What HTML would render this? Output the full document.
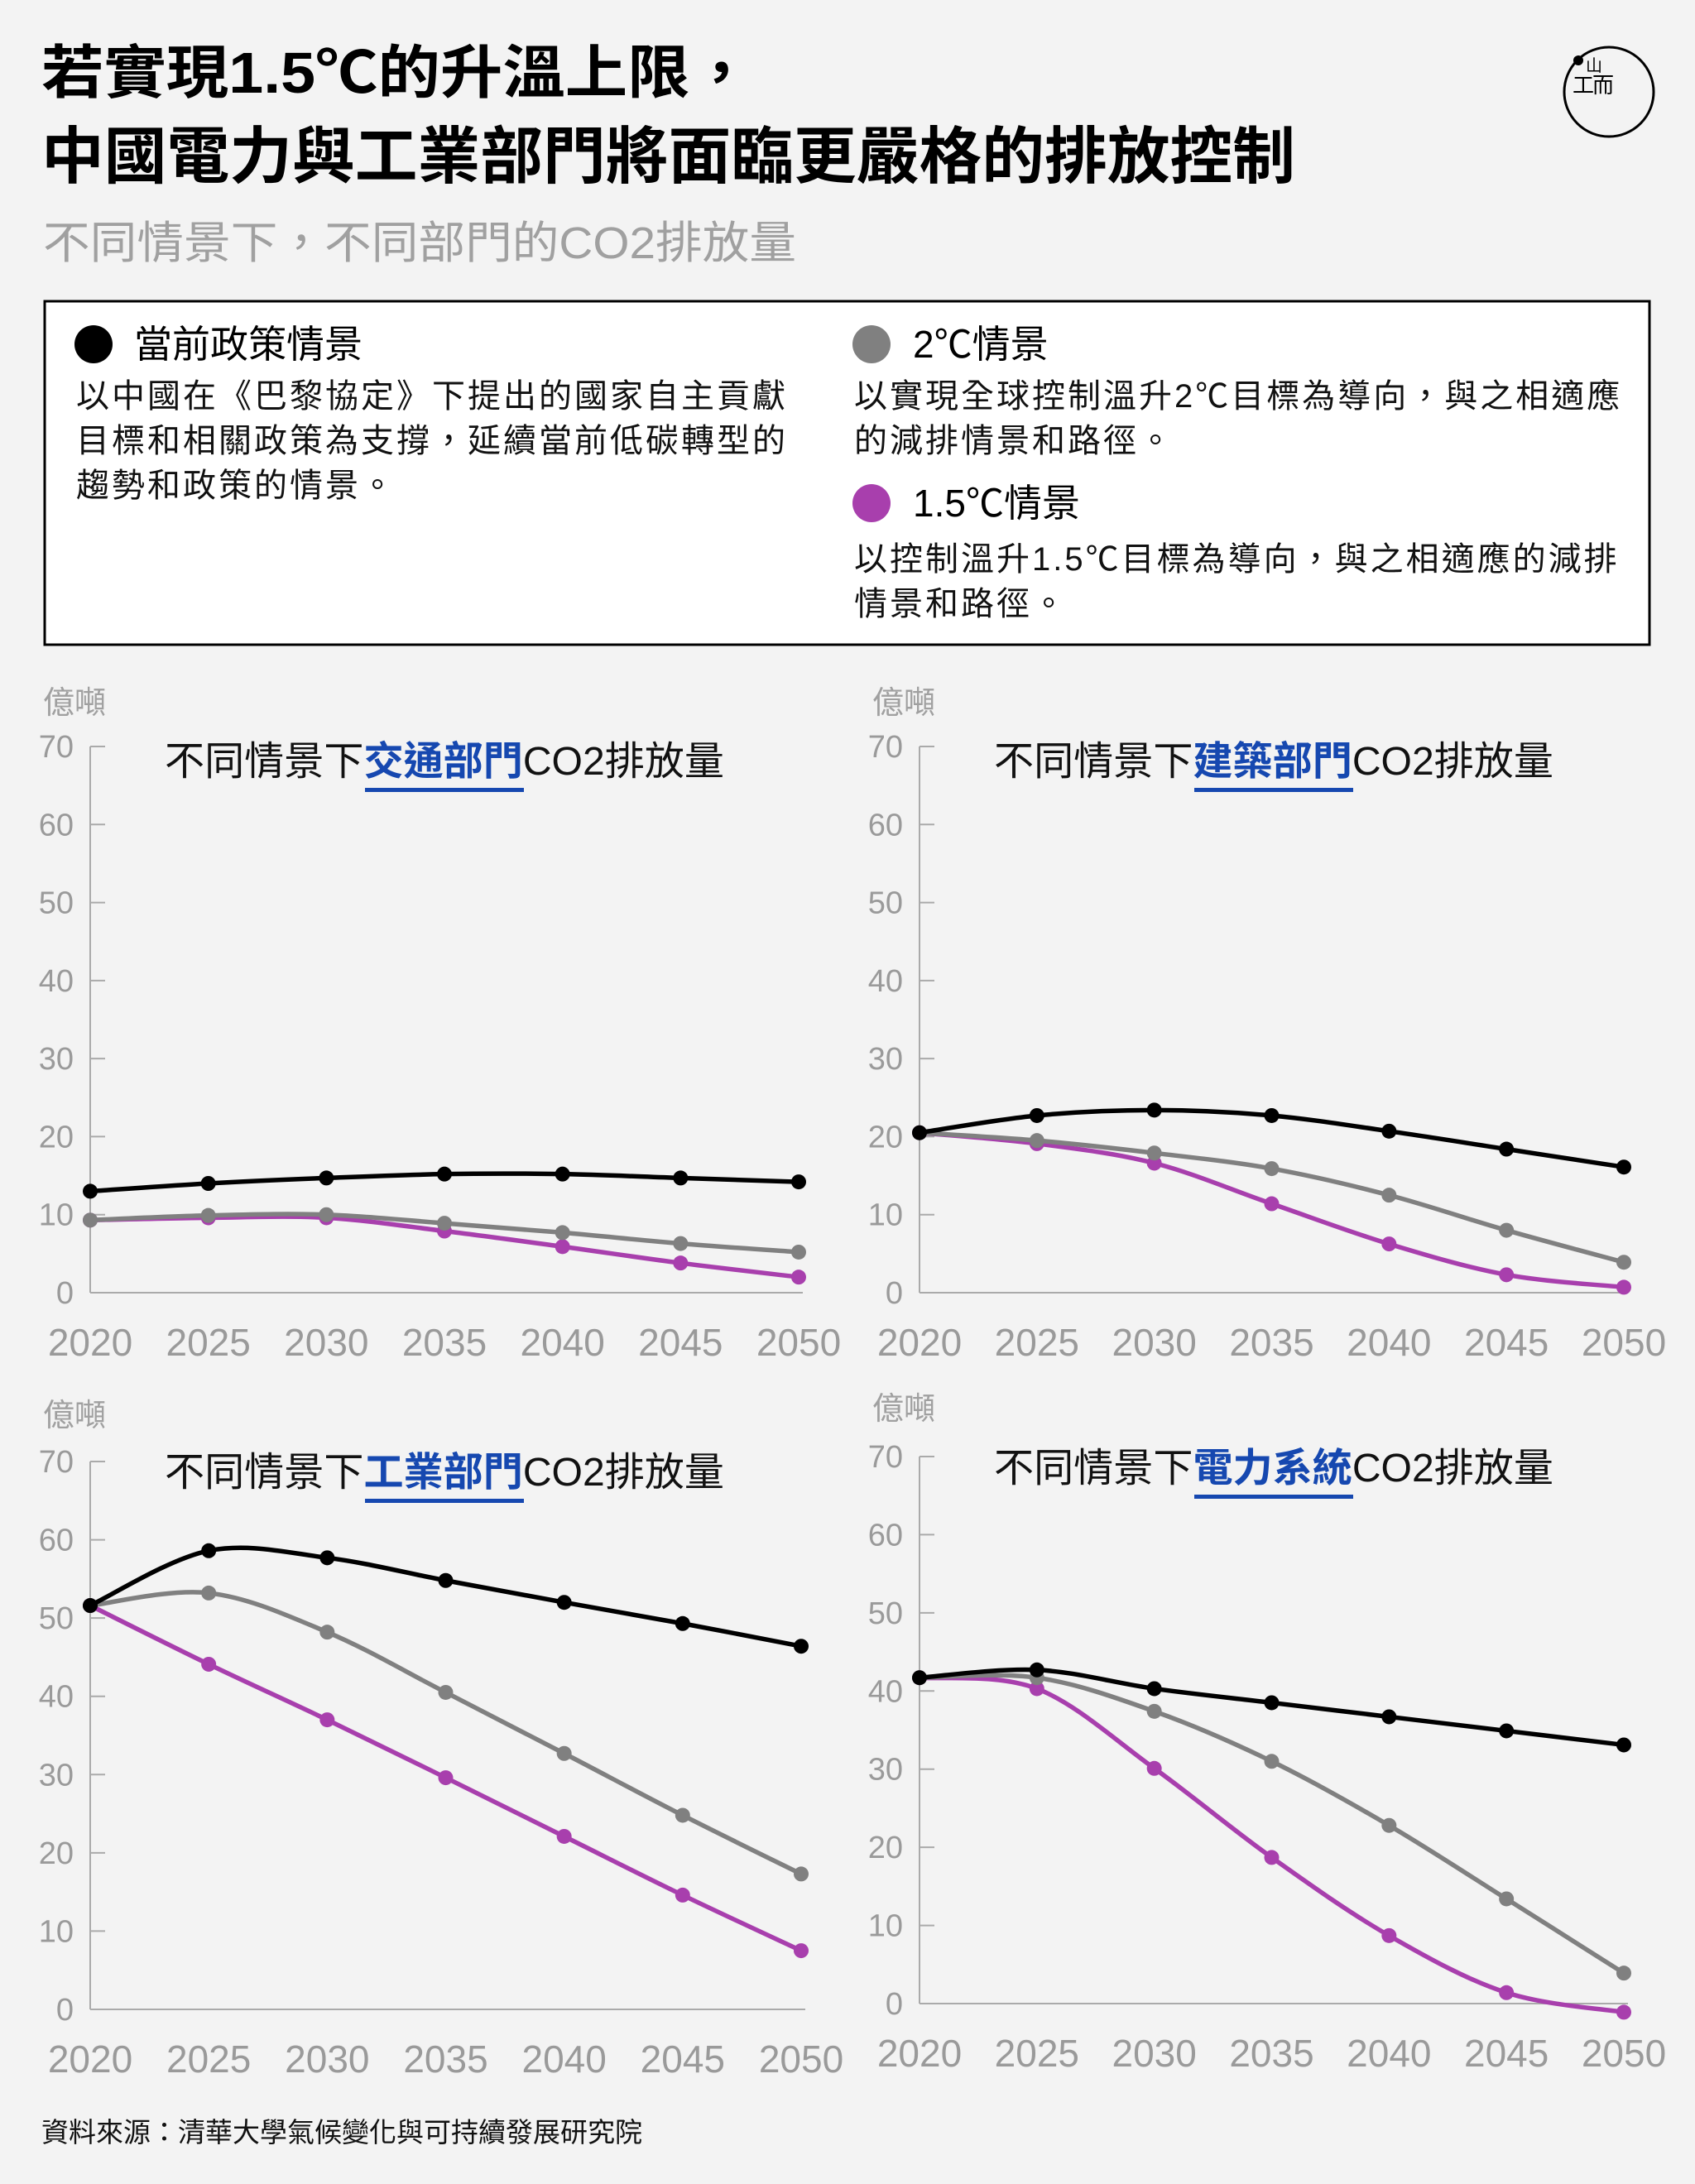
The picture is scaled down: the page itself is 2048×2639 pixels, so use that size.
<!DOCTYPE html>
<html><head><meta charset="utf-8">
<style>
html,body{margin:0;padding:0;background:#f3f3f3;}
svg{display:block;}
text{font-family:"Liberation Sans","Noto Sans CJK TC",sans-serif;}
.num{font-family:"Liberation Sans Narrow","Liberation Sans",sans-serif;fill:#9a9a9a;}
</style></head>
<body>
<svg id="s" width="2048" height="2639" viewBox="0 0 2048 2639" xmlns="http://www.w3.org/2000/svg">
<rect width="2048" height="2639" fill="#f3f3f3"/>
<text x="50" y="112" font-size="70" font-weight="bold" fill="#000" textLength="859" lengthAdjust="spacingAndGlyphs">若實現1.5℃的升溫上限，</text>
<text x="50" y="215" font-size="75" font-weight="bold" fill="#000" textLength="1515" lengthAdjust="spacingAndGlyphs">中國電力與工業部門將面臨更嚴格的排放控制</text>
<text x="52" y="312" font-size="54" fill="#a0a0a0" textLength="910" lengthAdjust="spacingAndGlyphs">不同情景下，不同部門的CO2排放量</text>
<circle cx="1944" cy="111" r="54" fill="none" stroke="#000" stroke-width="3"/>
<circle cx="1907" cy="73" r="6" fill="#000"/>
<text x="1916" y="86" font-size="20" fill="#000">山</text>
<text x="1900" y="112" font-size="26" fill="#000">工</text>
<text x="1924" y="112" font-size="26" fill="#000">而</text>
<rect x="54" y="364" width="1939" height="415" fill="#fff" stroke="#000" stroke-width="3"/>
<circle cx="113" cy="416" r="23" fill="#000"/>
<text x="162" y="432" font-size="46" fill="#000">當前政策情景</text>
<g font-size="40" fill="#111" letter-spacing="3">
<text x="92" y="492">以中國在《巴黎協定》下提出的國家自主貢獻</text>
<text x="92" y="546">目標和相關政策為支撐，延續當前低碳轉型的</text>
<text x="92" y="600">趨勢和政策的情景。</text>
<text x="1032" y="492">以實現全球控制溫升2℃目標為導向，與之相適應</text>
<text x="1032" y="546">的減排情景和路徑。</text>
<text x="1032" y="689">以控制溫升1.5℃目標為導向，與之相適應的減排</text>
<text x="1032" y="743">情景和路徑。</text>
</g>
<circle cx="1053" cy="416" r="23" fill="#808080"/>
<text x="1103" y="432" font-size="46" fill="#000">2℃情景</text>
<circle cx="1053" cy="608" r="23" fill="#a83fad"/>
<text x="1103" y="624" font-size="46" fill="#000">1.5℃情景</text>
<text x="50" y="2588" font-size="33" fill="#111">資料來源：清華大學氣候變化與可持續發展研究院</text>
<g id="charts"></g>
</svg>
<script>
var NS="http://www.w3.org/2000/svg";
var g=document.getElementById("charts");
function el(t,a,txt){var e=document.createElementNS(NS,t);for(var k in a)e.setAttribute(k,a[k]);if(txt!==undefined)e.textContent=txt;g.appendChild(e);return e;}
var charts=[
{x0:109,x1:965,y0:1562,y70:902,unitY:845,title:"交通部門",ty:936,
 d:[[13,14,14.7,15.2,15.2,14.7,14.2],[9.3,9.9,10,8.9,7.7,6.3,5.2],[9.3,9.6,9.6,7.9,5.9,3.8,2.0]]},
{x0:1111,x1:1962,y0:1562,y70:902,unitY:845,title:"建築部門",ty:936,
 d:[[20.5,22.7,23.4,22.7,20.7,18.4,16.1],[20.5,19.5,17.9,15.9,12.5,8.0,3.9],[20.5,19.1,16.6,11.4,6.25,2.3,0.7]]},
{x0:109,x1:968,y0:2428,y70:1766,unitY:1706,title:"工業部門",ty:1795,
 d:[[51.6,58.6,57.7,54.8,52.0,49.3,46.4],[51.6,53.2,48.2,40.5,32.7,24.8,17.3],[51.6,44.1,37.0,29.6,22.1,14.6,7.5]]},
{x0:1111,x1:1962,y0:2421,y70:1760,unitY:1698,title:"電力系統",ty:1790,
 d:[[41.7,42.7,40.3,38.5,36.7,34.9,33.1],[41.7,41.7,37.4,31.0,22.8,13.4,3.9],[41.7,40.3,30.1,18.7,8.7,1.4,-1.1]]}
];
var cols=["#000","#808080","#a83fad"];
charts.forEach(function(c){
 var sy=(c.y0-c.y70)/70, dx=(c.x1-c.x0)/6;
 el("text",{x:c.x0-57,y:c.unitY+17,"font-size":38,fill:"#a0a0a0"},"億噸");
 el("line",{x1:c.x0,y1:c.y70,x2:c.x0,y2:c.y0,stroke:"#aaa","stroke-width":2});
 el("line",{x1:c.x0,y1:c.y0,x2:c.x1+5,y2:c.y0,stroke:"#aaa","stroke-width":2});
 for(var v=0;v<=70;v+=10){var y=c.y0-v*sy;
  if(v>0)el("line",{x1:c.x0,y1:y,x2:c.x0+18,y2:y,stroke:"#aaa","stroke-width":2});
  el("text",{x:c.x0-20,y:y+13,"font-size":38,"text-anchor":"end","class":"num"},String(v));}
 for(var i=0;i<7;i++){el("text",{x:c.x0+i*dx,y:c.y0+76,"font-size":46,"text-anchor":"middle","class":"num"},String(2020+5*i));}
 var t=el("text",{x:c.x0+90,y:c.ty,"font-size":48,fill:"#111",textLength:676,lengthAdjust:"spacingAndGlyphs"});
 var a=document.createElementNS(NS,"tspan");a.textContent="不同情景下";t.appendChild(a);
 var b=document.createElementNS(NS,"tspan");b.textContent=c.title;b.setAttribute("fill","#1648b0");b.setAttribute("font-weight","bold");t.appendChild(b);
 var d2=document.createElementNS(NS,"tspan");d2.textContent="CO2排放量";t.appendChild(d2);
 el("rect",{x:c.x0+90+242,y:c.ty+16,width:192,height:5,fill:"#1648b0"});
 for(var s=2;s>=0;s--){
  var p=c.d[s].map(function(v,i){return [c.x0+i*dx,c.y0-v*sy];});
  var path="M"+p[0][0]+","+p[0][1];
  for(var i=0;i<6;i++){var p0=p[Math.max(i-1,0)],p1=p[i],p2=p[i+1],p3=p[Math.min(i+2,6)];
   var k=1/6;
   path+=" C"+(p1[0]+(p2[0]-p0[0])*k)+","+(p1[1]+(p2[1]-p0[1])*k)+" "+(p2[0]-(p3[0]-p1[0])*k)+","+(p2[1]-(p3[1]-p1[1])*k)+" "+p2[0]+","+p2[1];}
  el("path",{d:path,fill:"none",stroke:cols[s],"stroke-width":5.5});
  p.forEach(function(q){el("circle",{cx:q[0],cy:q[1],r:9,fill:cols[s]});});
 }
});
</script>
</body></html>
